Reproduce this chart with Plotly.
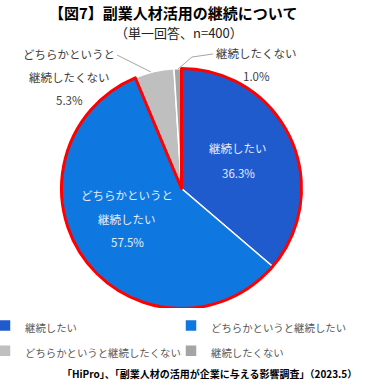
import plotly.graph_objects as go

# ---- data ----
categories = ["継続したい", "どちらかというと継続したい", "どちらかというと継続したくない", "継続したくない"]
values = [36.3, 57.5, 5.3, 1.0]
pct_labels = ["36.3%", "57.5%", "5.3%", "1.0%"]
colors = ["#1f5bcc", "#0e78e0", "#bfbfbf", "#a5a5a5"]

W, H = 371, 386
FONT = "Noto Sans CJK JP"
LEG_FS = 10.4

def px(x):
    return x / W

def py(y):
    return 1 - y / H

CX, CY, R = 181.5, 188.5, 120
domain = dict(x=[px(CX - R), px(CX + R)], y=[py(CY + R), py(CY - R)])

legend_names = [f"<span style='font-size:{LEG_FS}px'>{c}</span>" for c in categories]

fig = go.Figure()
fig.add_trace(go.Pie(
    labels=legend_names, values=values, sort=False, direction="clockwise", rotation=0,
    marker=dict(colors=colors, line=dict(color="white", width=1.5)),
    textinfo="none", domain=domain, customdata=categories,
    hovertemplate="%{customdata}: %{percent}<extra></extra>",
))
# red outline around the "continue" group (the two blue slices)
blue_sum = values[0] + values[1]
gray_sum = values[2] + values[3]
fig.add_trace(go.Pie(
    labels=["継続(計)", "非継続(計)"], values=[blue_sum, gray_sum], sort=False,
    direction="clockwise", rotation=0, showlegend=False, hoverinfo="skip",
    marker=dict(colors=["rgba(0,0,0,0)", "rgba(0,0,0,0)"],
                line=dict(color=["#ff0000", "rgba(0,0,0,0)"], width=[3, 0])),
    textinfo="none", domain=domain,
))

IN_COL = "#e6ecf7"
OUT_COL = "#404040"
LS = 11.5
ann = []
def label(x, y, text, size=LS, color=OUT_COL, bold=False, xanchor="center"):
    t = f"<b>{text}</b>" if bold else text
    ann.append(dict(x=px(x), y=py(y), xref="paper", yref="paper", showarrow=False,
                    xanchor=xanchor, yanchor="middle", text=t,
                    font=dict(size=size, color=color, family=FONT)))

label(173, 12.5, "【図7】副業人材活用の継続について", size=15, color="#000000", bold=True)
label(179, 33, "（単一回答、n=400）", size=13, color="#222222")
# inside labels
label(238, 148, "継続したい", color=IN_COL)
label(238, 173, pct_labels[0], color=IN_COL)
label(127, 195, "どちらかというと", color=IN_COL)
label(127, 219, "継続したい", color=IN_COL)
label(127, 242, pct_labels[1], color=IN_COL)
# outside labels
label(69, 54, "どちらかというと")
label(69, 77, "継続したくない")
label(69, 100, pct_labels[2])
label(256, 53, "継続したくない")
label(256, 76, pct_labels[3])
# source
label(359, 373, "「HiPro」、「副業人材の活用が企業に与える影響調査」（2023.5）",
      size=10, color="#000000", bold=True, xanchor="right")

shapes = [
    dict(type="path", xref="paper", yref="paper",
         path=f"M {px(117)},{py(55)} L {px(151)},{py(72)}",
         line=dict(color="#a6a6a6", width=1)),
    dict(type="path", xref="paper", yref="paper",
         path=f"M {px(213)},{py(54)} L {px(192)},{py(57)} L {px(178)},{py(69)}",
         line=dict(color="#a6a6a6", width=1)),
]

fig.update_layout(
    width=W, height=H, margin=dict(l=0, r=0, t=0, b=0, autoexpand=False),
    paper_bgcolor="white", plot_bgcolor="white",
    font=dict(family=FONT),
    annotations=ann, shapes=shapes,
    legend=dict(orientation="h", x=0, y=1 - 308 / H, xanchor="left", yanchor="top",
                indentation=-15,
                entrywidth=156, entrywidthmode="pixels",
                font=dict(size=17, color="#595959", family=FONT),
                itemclick=False, itemdoubleclick=False),
)

fig.write_html("out.html", config={"displayModeBar": False},
               post_script="document.body.style.margin='0px';")
